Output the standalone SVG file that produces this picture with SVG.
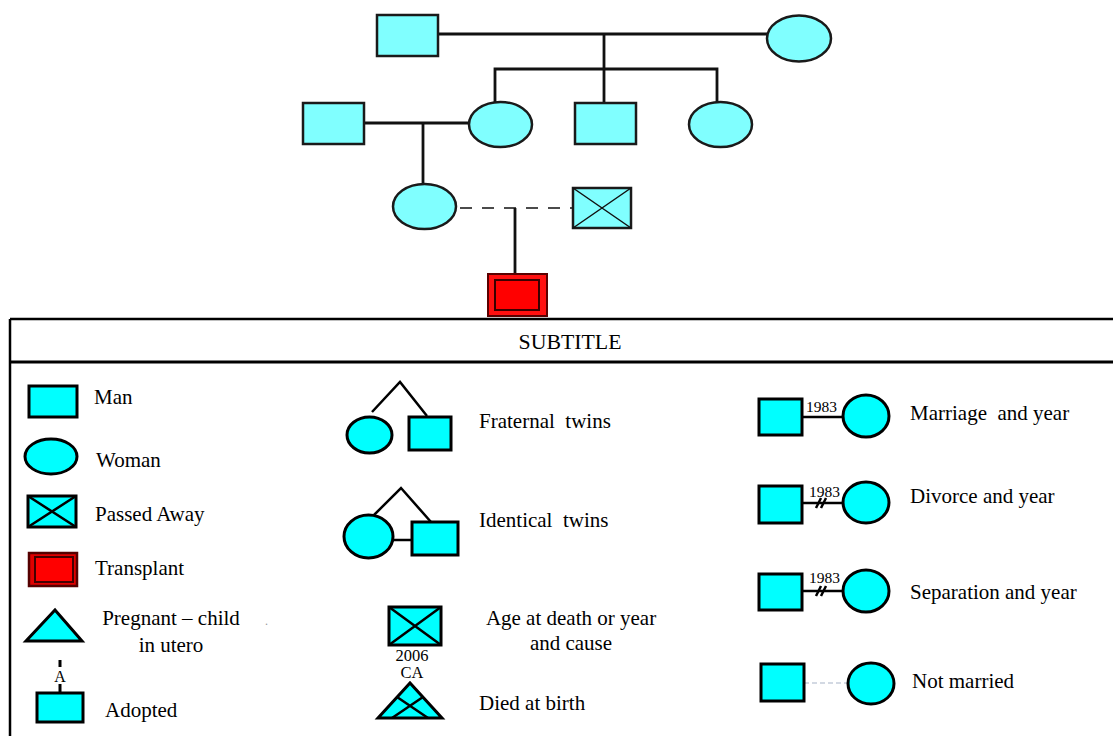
<svg xmlns="http://www.w3.org/2000/svg" width="1113" height="736" viewBox="0 0 1113 736">
<style>
.tn{fill:#80ffff;stroke:#1a1a1a;stroke-width:2.5}
.ln{fill:none;stroke:#111;stroke-width:2.8}
.thin{fill:none;stroke:#111;stroke-width:1.5}
.lg{fill:#00ffff;stroke:#000;stroke-width:3}
.lgl{fill:none;stroke:#000;stroke-width:2.5}
text{font-family:'Liberation Serif','DejaVu Serif','Times New Roman',serif;fill:#000}
.t{font-size:21px}
.sm{font-size:15.5px}
.c{text-anchor:middle}
</style>
<rect width="1113" height="736" fill="#fff"/>
<g id="connectors">
<line class="ln" x1="438" y1="34" x2="767" y2="34"/>
<line class="ln" x1="604" y1="34" x2="604" y2="103"/>
<polyline class="ln" points="495,102 495,69 717,69 717,102"/>
<line class="ln" x1="364" y1="123" x2="469" y2="123"/>
<line class="ln" x1="423" y1="123" x2="423" y2="185"/>
<line class="thin" x1="460" y1="208" x2="572" y2="208" stroke-dasharray="12 10" stroke="#333"/>
<line class="ln" x1="515" y1="208" x2="515" y2="274"/>
</g>
<g id="n1"><rect class="tn" x="377" y="15" width="61" height="41"/></g>
<g id="n2"><ellipse class="tn" cx="799" cy="38.5" rx="32" ry="23"/></g>
<g id="n3"><rect class="tn" x="303" y="103" width="61" height="41"/></g>
<g id="n4"><ellipse class="tn" cx="500.5" cy="124.5" rx="31.5" ry="22.5"/></g>
<g id="n5"><rect class="tn" x="575" y="103" width="61" height="41"/></g>
<g id="n6"><ellipse class="tn" cx="720.5" cy="124.5" rx="31.5" ry="22.5"/></g>
<g id="n7"><ellipse class="tn" cx="424.5" cy="206.5" rx="31.5" ry="22.5"/></g>
<g id="n8"><rect class="tn" x="573" y="188" width="58" height="40"/><path class="thin" d="M573,188 L631,228 M631,188 L573,228"/></g>
<g id="n9"><rect x="488" y="274" width="59" height="42" fill="#ff1010" stroke="#5a0000" stroke-width="2"/><rect x="495" y="280" width="44" height="30" fill="#ff0000" stroke="#3a0000" stroke-width="2"/></g>
<g id="legend-frame">
<line class="lgl" x1="10" y1="319" x2="1113" y2="319"/>
<line x1="10" y1="362" x2="1113" y2="362" stroke="#000" stroke-width="3"/>
<line class="lgl" x1="10" y1="319" x2="10" y2="736"/>
<text class="c" x="570" y="349" style="font-size:20px" textLength="103" lengthAdjust="spacingAndGlyphs">SUBTITLE</text>
</g>
<g id="leg-man"><rect class="lg" x="29" y="386" width="48" height="31"/><text class="t" x="94" y="404">Man</text></g>
<g id="leg-woman"><ellipse class="lg" cx="51" cy="456.5" rx="26" ry="17.5"/><text class="t" x="96" y="467">Woman</text></g>
<g id="leg-passed"><rect class="lg" x="28" y="496" width="48" height="31"/><path class="lgl" d="M28,496 L76,527 M76,496 L28,527"/><text class="t" x="95" y="521">Passed Away</text></g>
<g id="leg-transplant"><rect x="29" y="553" width="48" height="33" fill="#e00000" stroke="#500" stroke-width="2.5"/><rect x="35" y="557" width="38" height="25" fill="#ff0000" stroke="#400" stroke-width="2"/><text class="t" x="95" y="575">Transplant</text></g>
<g id="leg-pregnant"><polygon class="lg" points="26,641 82,641 55,610"/><text class="t c" x="171" y="625">Pregnant – child</text><text class="t c" x="171" y="652">in utero</text><text x="265" y="625" style="font-size:12px;fill:#999">.</text></g>
<g id="leg-adopted"><line x1="60" y1="660" x2="60" y2="667" stroke="#000" stroke-width="3"/><text x="60" y="682" class="c" style="font-size:16px">A</text><line x1="60" y1="684" x2="60" y2="693" stroke="#000" stroke-width="3"/><rect class="lg" x="37" y="693" width="46" height="29"/><text class="t" x="105" y="717">Adopted</text></g>
<g id="leg-fraternal"><polyline class="lgl" points="372,412 400,382 427,416"/><ellipse class="lg" cx="369.5" cy="435" rx="22.5" ry="18"/><rect class="lg" x="409" y="417" width="42" height="33"/><text class="t" x="479" y="428" style="white-space:pre">Fraternal  twins</text></g>
<g id="leg-identical"><polyline class="lgl" points="372,517 401,488 431,522"/><line class="lgl" x1="393" y1="540" x2="412" y2="540"/><ellipse class="lg" cx="368.5" cy="536.5" rx="24.5" ry="21.5"/><rect class="lg" x="412" y="522" width="46" height="33"/><text class="t" x="479" y="527" style="white-space:pre">Identical  twins</text></g>
<g id="leg-age"><rect class="lg" x="389" y="607" width="52" height="38"/><path class="lgl" d="M389,607 L441,645 M441,607 L389,645"/><text class="c" x="412" y="661" style="font-size:16.5px">2006</text><text class="c" x="412" y="678" style="font-size:16.5px">CA</text><text class="t c" x="571" y="625">Age at death or year</text><text class="t c" x="571" y="650">and cause</text></g>
<g id="leg-died"><polygon class="lg" points="378,718 442,718 410,683"/><path class="lgl" d="M397,697 L428,718 M423,697 L392,718"/><text class="t" x="479" y="710">Died at birth</text></g>
<g id="leg-marriage"><line class="lgl" x1="802" y1="417" x2="843" y2="417"/><rect class="lg" x="759" y="399" width="43" height="36"/><ellipse class="lg" cx="866" cy="416" rx="23" ry="21"/><text class="sm" x="806" y="412">1983</text><text class="t" x="910" y="420" style="white-space:pre">Marriage  and year</text></g>
<g id="leg-divorce"><line class="lgl" x1="802" y1="503" x2="843" y2="503"/><path d="M816,508 L821,498 M821,508 L826,498" stroke="#000" stroke-width="2.5"/><rect class="lg" x="759" y="486" width="43" height="37"/><ellipse class="lg" cx="866" cy="502.5" rx="23" ry="20.5"/><text class="sm" x="809" y="497">1983</text><text class="t" x="910" y="503">Divorce and year</text></g>
<g id="leg-separation"><line class="lgl" x1="802" y1="591" x2="843" y2="591"/><path d="M816,596 L821,586 M821,596 L826,586" stroke="#000" stroke-width="2.5"/><rect class="lg" x="759" y="574" width="43" height="36"/><ellipse class="lg" cx="866" cy="591" rx="23" ry="21"/><text class="sm" x="809" y="583">1983</text><text class="t" x="910" y="599">Separation and year</text></g>
<g id="leg-notmarried"><line x1="804" y1="683" x2="848" y2="683" stroke="#a8b4c8" stroke-width="1.2" stroke-dasharray="5 3"/><rect class="lg" x="761" y="664" width="43" height="37"/><ellipse class="lg" cx="871" cy="683.5" rx="23" ry="20.5"/><text class="t" x="912" y="688">Not married</text></g>
</svg>
